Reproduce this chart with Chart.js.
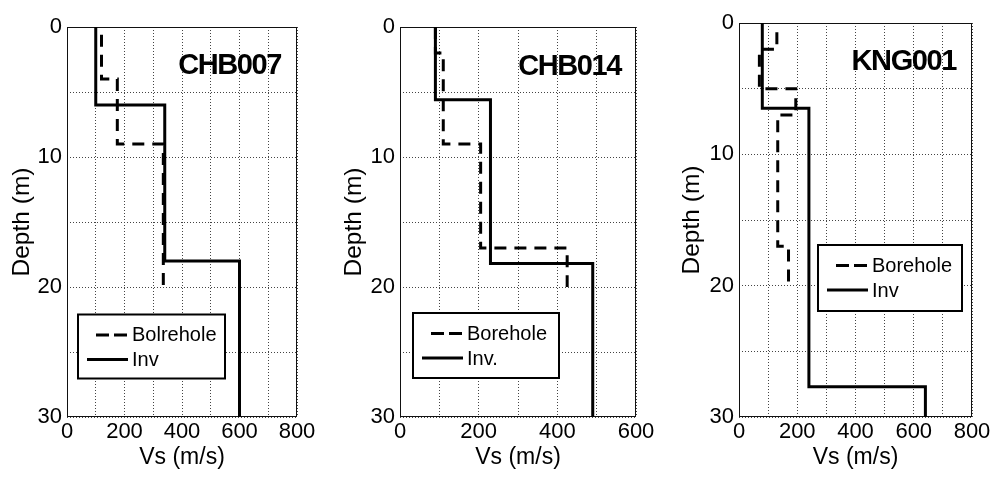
<!DOCTYPE html>
<html>
<head>
<meta charset="utf-8">
<script src="https://cdn.jsdelivr.net/npm/chart.js@4.4.1/dist/chart.umd.min.js"></script>
<style>
html,body{margin:0;padding:0;background:#fff;}
#wrap{position:relative;width:996px;height:477px;overflow:hidden;background:#fff;}
#wrap canvas{position:absolute;top:0;}
</style>
</head>
<body>
<div id="wrap">
  <canvas id="c1" width="330" height="477" style="left:0px;width:330px;height:477px"></canvas>
  <canvas id="c2" width="335" height="477" style="left:330px;width:335px;height:477px"></canvas>
  <canvas id="c3" width="331" height="477" style="left:665px;width:331px;height:477px"></canvas>
</div>
<script>
// ---------------- data ----------------
const siteNames = ['CHB007', 'CHB014', 'KNG001'];
const legendLabels1 = ['Bolrehole', 'Inv'];
const legendLabels2 = ['Borehole', 'Inv.'];
const legendLabels3 = ['Borehole', 'Inv'];

// layer velocities (m/s) and layer boundary depths (m)
const chb007BoreholeVs = [120, 175, 335];
const chb007BoreholeDepths = [0.6, 4, 9, 20];
const chb007InvVs = [100, 340, 600];
const chb007InvDepths = [0, 6, 18, 30];

const chb014BoreholeVs = [90, 110, 205, 425];
const chb014BoreholeDepths = [0, 2, 9, 17, 20];
const chb014InvVs = [90, 230, 490];
const chb014InvDepths = [0, 5.6, 18.2, 30];

const kng001BoreholeVs = [130, 70, 195, 133, 170];
const kng001BoreholeDepths = [0.7, 2, 5, 7, 17, 20];
const kng001InvVs = [80, 240, 640];
const kng001InvDepths = [0, 6.5, 27.7, 30];

const xMaxByPanel = [800, 600, 800];
const xTickLabelValues = [0, 200, 400, 600, 800];
const yTickLabelValues = [0, 10, 20, 30];
const xTitle = 'Vs (m/s)';
const yTitle = 'Depth (m)';

// ---------------- helpers ----------------
const FONT = "'Liberation Sans', Arial, Helvetica, sans-serif";

function stepProfile(vs, depths) {
  const pts = [];
  for (let i = 0; i < vs.length; i++) {
    pts.push({x: vs[i], y: depths[i]});
    pts.push({x: vs[i], y: depths[i + 1]});
  }
  return pts;
}

const overlay = {
  id: 'overlay',
  beforeDatasetsDraw(chart) {
    const {ctx, chartArea: a} = chart;
    ctx.save();
    ctx.strokeStyle = '#111';
    ctx.lineWidth = 1;
    ctx.strokeRect(Math.round(a.left) + 0.5, Math.round(a.top) + 0.5,
                   Math.round(a.right - a.left) - 1, Math.round(a.bottom - a.top) - 1);
    ctx.restore();
  },
  afterDatasetsDraw(chart, args, o) {
    const {ctx, chartArea: a} = chart;
    // panel name
    ctx.save();
    ctx.font = 'bold ' + o.titleSize + 'px ' + FONT;
    ctx.fillStyle = '#000';
    ctx.textAlign = 'right';
    ctx.textBaseline = 'alphabetic';
    if ('letterSpacing' in ctx) ctx.letterSpacing = o.titleSpacing + 'px';
    ctx.fillText(o.title, a.right - o.titleRight, a.top + o.titleBaseline);
    ctx.restore();

    // legend box
    const L = o.legend;
    const lx = a.left + L.dx, ly = a.top + L.dy;
    ctx.save();
    ctx.fillStyle = '#fff';
    ctx.fillRect(lx, ly, L.w, L.h);
    ctx.strokeStyle = '#000';
    ctx.lineWidth = 2;
    ctx.strokeRect(lx, ly, L.w, L.h);
    const ds = chart.data.datasets;
    ctx.lineCap = 'butt';
    ctx.lineWidth = 3;
    ctx.setLineDash([13, 5]);
    ctx.beginPath();
    ctx.moveTo(lx + 18, ly + 20.5);
    ctx.lineTo(lx + 49, ly + 20.5);
    ctx.stroke();
    ctx.setLineDash([]);
    ctx.beginPath();
    ctx.moveTo(lx + 9, ly + 45);
    ctx.lineTo(lx + 50, ly + 45);
    ctx.stroke();
    ctx.font = '20px ' + FONT;
    ctx.fillStyle = '#000';
    ctx.textAlign = 'left';
    ctx.textBaseline = 'middle';
    ctx.fillText(ds[0].label, lx + 54, ly + 21);
    ctx.fillText(ds[1].label, lx + 54, ly + 46);
    ctx.restore();
  }
};

function makePanel(id, labels, boreholePts, invPts, xMax, frame, deco) {
  const canvas = document.getElementById(id);
  return new Chart(canvas, {
    type: 'scatter',
    data: {
      datasets: [
        {label: labels[0], data: boreholePts, showLine: true, borderColor: '#000',
         borderWidth: 3, borderDash: [12, 8], pointRadius: 0, borderCapStyle: 'butt',
         borderJoinStyle: 'miter', fill: false},
        {label: labels[1], data: invPts, showLine: true, borderColor: '#000',
         borderWidth: 3, pointRadius: 0, borderCapStyle: 'butt',
         borderJoinStyle: 'miter', fill: false}
      ]
    },
    options: {
      responsive: false,
      animation: false,
      events: [],
      layout: {padding: {left: 0, right: frame.padRight, top: frame.top, bottom: 0}},
      plugins: {
        legend: {display: false},
        tooltip: {enabled: false},
        overlay: deco
      },
      scales: {
        x: {
          type: 'linear', position: 'bottom', min: 0, max: xMax,
          ticks: {
            stepSize: 100, autoSkip: false, maxRotation: 0, padding: 2,
            color: '#000', font: {family: FONT, size: 22, lineHeight: 1.2},
            callback: v => xTickLabelValues.includes(v) ? String(v) : ''
          },
          grid: {color: '#444', lineWidth: 1, drawTicks: false},
          border: {display: false, dash: [1, 2]},
          title: {display: true, text: xTitle, color: '#000',
                  font: {family: FONT, size: 23, lineHeight: 1.2}, padding: {top: 0, bottom: 6}},
          afterFit: s => { s.height = frame.xAxisHeight; }
        },
        y: {
          type: 'linear', position: 'left', min: 0, max: 30, reverse: true,
          ticks: {
            stepSize: 5, autoSkip: false, padding: 5,
            color: '#000', font: {family: FONT, size: 22, lineHeight: 1.2},
            callback: v => yTickLabelValues.includes(v) ? String(v) : ''
          },
          grid: {color: '#444', lineWidth: 1, drawTicks: false},
          border: {display: false, dash: [1, 2]},
          title: {display: true, text: yTitle, color: '#000',
                  font: {family: FONT, size: 24.5, lineHeight: 1.2}, padding: {top: frame.yTitlePad, bottom: 0}},
          afterFit: s => { s.width = frame.yAxisWidth; }
        }
      }
    },
    plugins: [overlay]
  });
}

makePanel('c1', legendLabels1,
  stepProfile(chb007BoreholeVs, chb007BoreholeDepths),
  stepProfile(chb007InvVs, chb007InvDepths),
  xMaxByPanel[0],
  {yAxisWidth: 67, padRight: 33, top: 27, xAxisHeight: 60, yTitlePad: 8},
  {title: siteNames[0], titleSize: 29, titleSpacing: -1.4, titleRight: 16, titleBaseline: 46.5,
   legend: {dx: 11, dy: 287.5, w: 147, h: 64}});

makePanel('c2', legendLabels2,
  stepProfile(chb014BoreholeVs, chb014BoreholeDepths),
  stepProfile(chb014InvVs, chb014InvDepths),
  xMaxByPanel[1],
  {yAxisWidth: 70, padRight: 29, top: 27, xAxisHeight: 60, yTitlePad: 10},
  {title: siteNames[1], titleSize: 29, titleSpacing: -1.4, titleRight: 15, titleBaseline: 47.5,
   legend: {dx: 13, dy: 286, w: 146, h: 65}});

makePanel('c3', legendLabels3,
  stepProfile(kng001BoreholeVs, kng001BoreholeDepths),
  stepProfile(kng001InvVs, kng001InvDepths),
  xMaxByPanel[2],
  {yAxisWidth: 74, padRight: 24, top: 23, xAxisHeight: 60, yTitlePad: 13},
  {title: siteNames[2], titleSize: 29, titleSpacing: -1.4, titleRight: 16, titleBaseline: 47,
   legend: {dx: 79, dy: 222, w: 144, h: 66}});
</script>
</body>
</html>
